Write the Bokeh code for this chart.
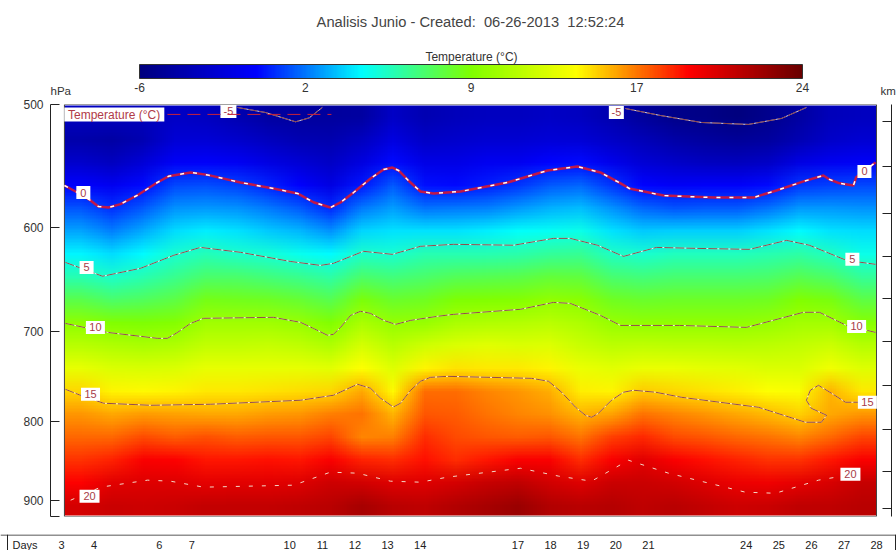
import base64, struct, zlib
import numpy as np
from bokeh.plotting import figure
from bokeh.layouts import column, row
from bokeh.models import (Range1d, LogAxis, FixedTicker, LinearColorMapper, ColorBar, Span)
from bokeh.core.properties import value
from bokeh.embed import file_html
from bokeh.resources import INLINE

FONT = "Liberation Sans"
TITLE = "Analisis Junio - Created:\u00a0 06-26-2013\u00a0 12:52:24"
CBAR_TITLE = "Temperature (°C)"
T_LOW, T_HIGH = -6, 24
cbar_ticks = [-6, 1.5, 9, 16.5, 24]
cbar_labels = {-6: "-6", 1.5: "2", 9: "9", 16.5: "17", 24: "24"}

y_ticks = [500, 600, 700, 800, 900, 921]
km_ticks_hpa = [512.7, 548, 587.6, 626.2, 666.5, 710.4, 758.2, 809.2, 861.2, 910.3]
day_ticks = [3, 4, 6, 7, 10, 11, 12, 13, 14, 17, 18, 19, 20, 21, 24, 25, 26, 27, 28]

image_day_start, image_day_end = 3.09, 28.0
level_top, level_bottom = 500, 921
# hPa levels of the rows below (top to bottom)
pressure_levels = [508, 525, 544, 563, 582, 603, 623, 645, 667, 690, 714, 738, 764, 790, 818, 846, 875, 905]

col_00 = [-3.2,-4.2,-2.8,-0.8,0.9,2.4,3.9,5.5,7.5,9.5,11.2,12.9,14.6,15.9,16.8,17.9,18.9,20.3]
col_01 = [-3.4,-4.4,-3.2,-1.2,0.1,1.7,3.4,5.1,7.0,9.0,10.8,12.4,14.0,15.5,16.8,18.2,19.8,20.7]
col_02 = [-3.5,-3.8,-2.3,-0.5,1.0,2.5,4.0,5.6,7.2,8.9,10.6,12.3,13.9,15.7,17.4,19.0,20.0,20.5]
col_03 = [-3.0,-2.4,-1.0,0.6,2.0,3.4,4.9,6.3,7.7,9.2,10.8,12.4,14.0,15.6,17.0,18.9,20.0,20.7]
col_04 = [-3.2,-2.4,-0.9,0.7,2.2,3.8,5.4,7.0,8.6,10.2,11.5,12.9,14.2,15.5,17.3,18.4,19.7,20.9]
col_05 = [-3.8,-2.8,-1.1,0.5,2.0,3.6,5.1,6.9,8.5,10.2,11.5,12.9,14.2,15.5,17.0,18.4,19.8,20.9]
col_06 = [-4.5,-3.4,-1.8,-0.1,1.5,3.1,4.8,6.6,8.4,10.2,11.6,12.9,14.3,15.7,17.2,18.5,19.8,20.9]
col_07 = [-4.7,-3.8,-2.4,-0.8,1.0,2.7,4.4,6.2,8.0,9.9,11.4,12.9,14.4,15.9,17.2,18.4,19.9,21.0]
col_08 = [-4.6,-3.9,-3.0,-1.8,0.0,2.0,4.0,5.8,7.4,9.0,10.8,12.7,14.6,16.3,17.5,19.0,20.5,21.3]
col_09 = [-4.5,-3.3,-2.0,-0.3,1.5,3.3,5.1,7.0,8.8,10.6,12.2,13.8,15.5,16.5,16.2,18.2,20.4,21.8]
col_10 = [-3.0,-2.0,-0.5,1.0,2.3,3.6,5.0,6.6,8.1,9.8,11.2,12.6,13.9,15.3,16.3,18.0,20.0,21.3]
col_11 = [-3.8,-3.0,-1.7,-0.4,1.4,3.5,5.5,7.0,8.4,9.9,12.0,14.0,16.7,17.1,18.0,18.5,20.0,21.0]
col_12 = [-3.5,-2.8,-1.7,-0.5,1.5,3.5,5.6,7.3,8.9,10.6,12.4,14.3,16.7,17.0,17.4,18.0,20.3,21.5]
col_13 = [-3.3,-2.5,-1.3,-0.2,1.7,3.8,5.6,7.4,9.0,10.8,12.7,14.2,16.2,16.5,17.2,18.4,20.8,21.8]
col_14 = [-3.2,-2.5,-1.2,0.3,2.2,4.1,5.7,7.5,9.2,10.9,12.5,14.2,15.9,16.2,17.0,19.0,21.0,22.3]
col_15 = [-3.0,-2.3,-0.7,1.0,2.6,4.3,6.0,7.9,9.7,11.2,12.6,14.0,15.4,16.0,17.2,19.0,20.4,21.5]
col_16 = [-3.3,-2.4,-0.5,1.2,2.9,4.5,6.1,7.8,9.4,10.7,11.8,13.0,14.1,15.3,16.5,18.0,20.0,21.2]
col_17 = [-4.0,-3.0,-1.5,0.3,2.0,3.6,5.2,6.8,8.3,9.9,11.3,12.7,14.0,15.6,17.6,19.0,20.7,21.4]
col_18 = [-4.8,-3.6,-2.4,-0.7,1.2,3.1,5.0,6.6,8.1,9.7,11.4,13.1,14.8,16.5,18.1,19.8,20.7,21.0]
col_19 = [-5.5,-4.3,-2.9,-1.0,0.9,3.2,5.3,6.8,8.2,9.7,11.3,13.0,14.6,16.2,17.4,19.0,20.4,21.3]
col_20 = [-5.6,-4.7,-3.2,-0.9,1.0,3.2,5.3,6.8,8.2,9.7,11.3,12.8,14.3,15.8,17.2,18.6,20.0,20.9]
col_21 = [-5.9,-4.9,-3.4,-0.9,1.0,3.2,5.3,6.8,8.2,9.7,11.2,12.7,14.1,15.5,16.8,18.2,19.5,20.6]
col_22 = [-5.4,-4.6,-3.0,-0.6,1.4,3.6,5.5,7.0,8.4,9.9,11.3,12.5,13.8,15.1,16.5,17.9,19.4,20.7]
col_23 = [-4.5,-3.8,-1.8,0.3,2.2,4.0,5.8,7.4,9.0,10.4,11.5,12.5,13.6,14.7,16.2,17.8,19.7,21.0]
col_24 = [-3.5,-2.9,-1.2,0.5,2.1,3.6,5.2,7.0,8.7,10.4,11.9,13.3,15.3,15.5,16.8,18.4,20.2,21.0]
col_25 = [-3.2,-2.6,-1.0,0.6,2.0,3.4,4.5,6.0,7.6,9.3,11.0,12.6,14.2,15.8,17.5,19.0,20.8,21.2]
temperature_columns = [col_00,col_01,col_02,col_03,col_04,col_05,col_06,col_07,col_08,col_09,col_10,col_11,col_12,
                       col_13,col_14,col_15,col_16,col_17,col_18,col_19,col_20,col_21,col_22,col_23,col_24,col_25]

# contour lines: (day, hPa)
c_m5_a_days = [8.4, 9.26, 10.18, 10.6, 11.0]
c_m5_a_hpa = [502.2, 506, 513, 510, 502.2]
c_m5_b_days = [20.3, 21.37, 22.63, 24.07, 25.09, 25.85]
c_m5_b_hpa = [503, 508.2, 513.5, 515, 510.4, 502.2]
c_0_days = [3.09,3.49,3.89,4.13,4.44,4.81,5.33,5.94,6.28,6.96,7.48,8.49,9.5,10.24,10.73,11.25,11.56,11.96,12.48,12.88,13.15,13.34,13.64,14.01,14.41,
            15.24,16.68,17.91,18.83,19.53,20.15,20.42,21.47,23.0,24.23,24.63,24.93,25.76,26.37,26.56,26.87,27.29,27.38,27.97]
c_0_hpa = [563.8,569.7,576.4,581.6,582.5,579.6,572,561.3,556.2,553,555,561.3,566.3,570.5,578,582.5,578.1,569.7,558,550.6,549,551.4,559.6,568.8,570.5,
           568.8,561.3,551.4,548.2,553,562,566.3,572.3,574,574,570.5,568,560.4,555.5,558.8,562,563.8,556.9,544.8]
c_5_days = [3.12,4.26,5.42,6.44,7.26,8.49,10.02,10.94,11.34,12.26,13.15,14.01,15.02,16.87,18.09,18.61,19.44,20.24,21.25,22.48,
            24.1,25.24,25.94,27.08,27.97]
c_5_hpa = [631.9,645,637.5,625.3,618,622.5,631,634.7,632.8,621.6,624.4,617,615.2,616,609.8,609.8,616,626.3,618,618.9,
           619.8,611.6,616,630,633.7]
c_10_days = [3.12,4.41,5.94,6.25,6.56,6.96,7.36,9.5,10.33,10.73,11.16,11.34,11.56,11.87,12.17,12.48,12.88,13.25,13.71,14.53,15.02,17.08,18.09,18.61,19.53,20.15,21.96,24.01,25.76,
             26.25,27.08,27.97]
c_10_hpa = [691.7,701,707.2,707.2,701,691.7,686.5,685.5,690.6,696.9,704,703,695.8,683.5,679.4,681.5,688.6,692.7,688.6,684.5,682.5,677.4,670.5,671.5,683.5,693.8,693.8,695.8,680.4,
            680.4,693.8,701]
c_15_days = [3.12,3.58,4.29,5.73,7.57,10.33,11.34,12.08,12.48,12.79,13.18,13.4,13.71,14.01,14.32,14.84,17.42,17.94,18.34,18.77,19.07,19.26,19.47,19.87,20.24,20.55,21.22,22.02,24.38,25.82,26.31,
             26.47,26.0,25.85,25.97,26.22,26.62,27.05,27.97]
c_15_hpa = [762.7,769.5,778.6,781,779.8,775.2,769.5,757,761.5,772.9,783,778.6,763.8,753.7,749.3,748.2,750.4,753.7,766,783.3,792.6,795,790.3,775.2,766,763.8,766,771.8,783.3,800.9,800.9,
            792.6,784.5,775.2,763.8,758.2,767.2,777.5,777.5]
c_20_days = [3.28,4.2,5.64,6.34,7.36,10.12,11.25,12.08,13.09,14.01,14.84,17.08,18.25,19.26,20.39,21.62,23.98,24.9,26.22,27.66]
c_20_hpa = [899,881.8,872.7,874,881.8,879.2,862.4,863.7,874,875.3,868.8,857.4,867.5,874,847.3,863.7,888.4,889.8,872.7,862.4]

label_days = [3.67, 27.63, 8.12, 20.02, 3.77, 27.26, 4.04, 27.39, 3.89, 27.72, 3.86, 27.2]
label_hpa = [569.7, 552.2, 505.2, 505.9, 636.6, 629, 695.8, 694.8, 768.4, 777.5, 893.7, 865]
label_text = ["0", "0", "-5", "-5", "5", "5", "10", "10", "15", "15", "20", "20"]
label_box_w = [14, 14, 16, 15, 14, 14, 19, 19, 19, 19, 20, 20]

# colour map
stops = [0, .175, .335, .5, .66, .83, 1]
stop_r = [0, 0, 0, 128, 255, 255, 106]
stop_g = [0, 0, 255, 255, 255, 0, 0]
stop_b = [127, 255, 255, 0, 0, 0, 0]
t = np.linspace(0, 1, 256)
pal_r = np.interp(t, stops, stop_r).astype(int)
pal_g = np.interp(t, stops, stop_g).astype(int)
pal_b = np.interp(t, stops, stop_b).astype(int)
palette = ["#%02x%02x%02x" % c for c in zip(pal_r.tolist(), pal_g.tolist(), pal_b.tolist())]
mapper = LinearColorMapper(palette=palette, low=T_LOW, high=T_HIGH)


def field_to_png(field):
    """Colour the table of read values with the palette; the browser smooths the small picture when it scales it."""
    idx = np.clip(((field - T_LOW) / (T_HIGH - T_LOW) * 256).astype(int), 0, 255)
    rgb = np.dstack([pal_r[idx], pal_g[idx], pal_b[idx]]).astype(np.uint8)
    raw = b"".join(b"\x00" + row_.tobytes() for row_ in rgb)
    def chunk(tag, data):
        return struct.pack(">I", len(data)) + tag + data + struct.pack(">I", zlib.crc32(tag + data))
    h, w = field.shape
    png = b"\x89PNG\r\n\x1a\n" + chunk(b"IHDR", struct.pack(">IIBBBBB", w, h, 8, 2, 0, 0, 0)) \
        + chunk(b"IDAT", zlib.compress(raw)) + chunk(b"IEND", b"")
    return "data:image/png;base64," + base64.b64encode(png).decode()


# ---- header ----
head = figure(width=896, height=97, output_backend="svg", toolbar_location=None,
              x_range=Range1d(0, 896), y_range=Range1d(97, 0), min_border=0,
              x_axis_location=None, y_axis_location=None, outline_line_color=None)
head.grid.visible = False
head.text([470], [21], text=[TITLE], text_font=value(FONT), text_font_size="14.7px", text_color="#444444",
          text_align="center", text_baseline="middle")
head.text([471], [56], text=[CBAR_TITLE], text_font=value(FONT), text_font_size="12px", text_color="#333333",
          text_align="center", text_baseline="middle")
head.text([50, 880], [90, 90], text=["hPa", "km"], text_font=value(FONT), text_font_size="11.5px", text_color="#333333",
          text_align="left", text_baseline="middle")
cb = ColorBar(color_mapper=mapper, width=663, height=14, location=(139, 3), padding=0, margin=0,
              orientation="horizontal", ticker=FixedTicker(ticks=cbar_ticks), major_label_overrides=cbar_labels,
              major_tick_line_color=None, minor_tick_line_color=None, bar_line_color="#333333",
              major_label_text_font=FONT, major_label_text_font_size="12px", major_label_text_color="#333333",
              background_fill_alpha=0, label_standoff=4)
head.add_layout(cb)

# ---- main ----
p = figure(width=896, height=437, output_backend="svg", toolbar_location=None, y_axis_type="log",
           x_range=Range1d(2.6626, 28.46), y_range=Range1d(level_bottom, level_top),
           x_axis_location=None, min_border_left=50, min_border_right=5, min_border_top=7, min_border_bottom=18,
           outline_line_color=None)
p.grid.visible = False
ax = p.yaxis[0]
ax.ticker = FixedTicker(ticks=y_ticks)
ax.major_label_overrides = {921: ""}
ax.major_tick_in, ax.major_tick_out = 9, 0
ax.minor_tick_line_color = None
ax.major_label_standoff = 7
ax.major_label_text_font = FONT
ax.major_label_text_font_size = "12px"
ax.major_label_text_color = "#333333"
ax.axis_line_color = "#222222"
ax.major_tick_line_color = "#222222"

right = LogAxis(ticker=FixedTicker(ticks=km_ticks_hpa), major_label_overrides={v: "" for v in km_ticks_hpa},
                major_tick_in=9, major_tick_out=0, minor_tick_line_color=None, axis_line_color="#222222",
                major_tick_line_color="#222222", major_label_text_font_size="0px", major_label_standoff=0)
p.add_layout(right, "right")

field = np.column_stack(temperature_columns)
p.image_url(url=[field_to_png(field)], x=image_day_start, y=level_top, w=image_day_end - image_day_start,
            h=level_bottom - level_top, anchor="top_left")
p.quad(left=image_day_start, right=image_day_end, top=level_top, bottom=level_bottom,
       fill_color=None, line_color="#444444", line_width=1)

thin = "#7a2020"
for d, h in [(c_m5_a_days, c_m5_a_hpa), (c_m5_b_days, c_m5_b_hpa), (c_5_days, c_5_hpa), (c_10_days, c_10_hpa), (c_15_days, c_15_hpa)]:
    p.line(d, h, line_color="white", line_width=1, line_alpha=0.8)
    p.line(d, h, line_color=thin, line_width=1, line_dash="9 2", line_alpha=0.8)
p.line(c_0_days, c_0_hpa, line_color="#c0174a", line_width=2.5)
p.line(c_0_days, c_0_hpa, line_color="white", line_width=1.5, line_dash="4 9")
p.line(c_20_days, c_20_hpa, line_color="#f4d8c8", line_width=1, line_dash="4 9")

# contour labels
p.rect(label_days, label_hpa, width=label_box_w, height=[13] * len(label_days), width_units="screen", height_units="screen",
       fill_color="white", line_color=None)
p.text(label_days, label_hpa, text=label_text, text_font=value(FONT), text_font_size="11px", text_color="#a83c48",
       text_align="center", text_baseline="middle")

# in-chart legend
p.line([6.25, 11.28], [507.4, 507.4], line_color="#c8213a", line_width=1, line_dash="13 7")
p.rect([4.62], [507.4], width=[100], height=[14], width_units="screen", height_units="screen", fill_color="white", line_color=None)
p.text([3.2], [507.6], text=["Temperature (°C)"], text_font=value(FONT), text_font_size="12px", text_color="#b03a48",
       text_align="left", text_baseline="middle")

# ---- footer ----
foot = figure(width=896, height=16, output_backend="svg", toolbar_location=None,
              x_range=Range1d(1.129, 28.61), y_range=Range1d(16, 0), min_border=0,
              x_axis_location=None, y_axis_location=None, outline_line_color=None)
foot.grid.visible = False
foot.text(day_ticks, [10] * len(day_ticks), text=[str(d) for d in day_ticks], text_font=value(FONT), text_font_size="11px",
          text_color="#222222", text_align="center", text_baseline="middle")
foot.text([1.497], [10], text=["Days"], text_font=value(FONT), text_font_size="11px", text_color="#222222",
          text_align="left", text_baseline="middle")
foot.add_layout(Span(location=0.5, dimension="width", line_color="#222222", line_width=1))
foot.add_layout(Span(location=1.344, dimension="height", line_color="#222222", line_width=1))
foot.add_layout(Span(location=28.58, dimension="height", line_color="#222222", line_width=1))

page = column(row(head), p, row(foot), spacing=0)
open("out.html", "w").write(file_html(page, INLINE))
